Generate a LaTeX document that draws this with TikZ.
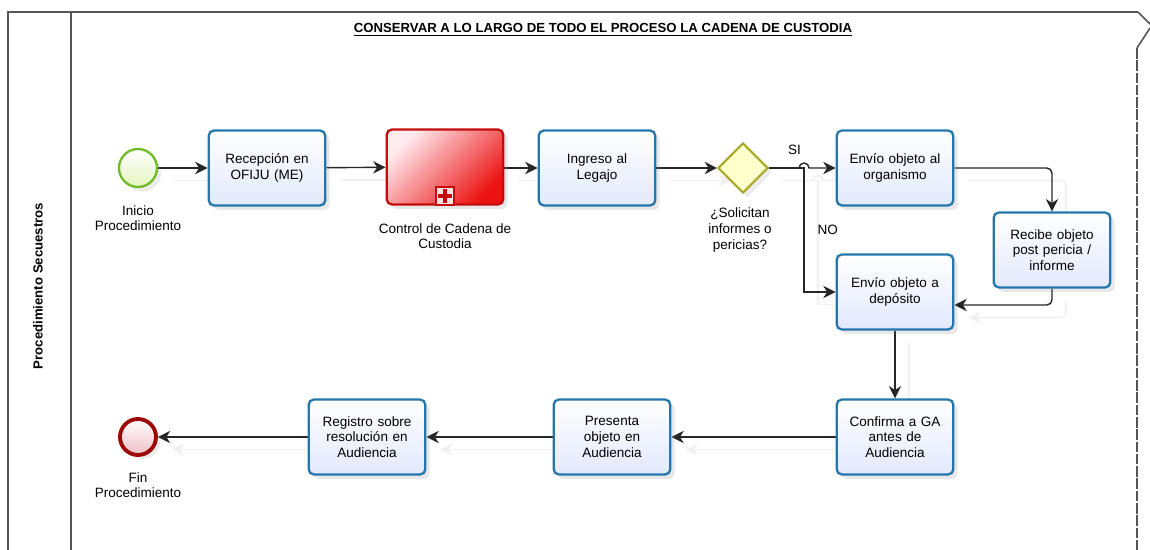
\documentclass[tikz,border=0pt]{standalone}
\usepackage{fontspec}
\setmainfont{Liberation Sans}
\usetikzlibrary{arrows.meta,shapes.geometric,shadows,positioning,backgrounds}

\definecolor{taskblue}{RGB}{36,118,172}
\definecolor{taskfill}{RGB}{226,233,252}
\definecolor{ctrlred}{RGB}{196,12,12}
\definecolor{ctrlfill}{RGB}{236,18,18}
\definecolor{ctrltop}{RGB}{255,236,240}
\definecolor{gwline}{RGB}{168,168,40}
\definecolor{gwfill}{RGB}{255,255,205}
\definecolor{startline}{RGB}{112,186,40}
\definecolor{startfill}{RGB}{228,246,190}
\definecolor{endline}{RGB}{156,8,8}
\definecolor{endfill}{RGB}{240,190,196}
\definecolor{poolline}{RGB}{85,85,85}

\newcommand\boxfont{\fontsize{7.7}{8.9}\selectfont}
\newcommand\headfont{\fontsize{7.5}{9}\selectfont\bfseries}

\tikzset{
  task/.style={draw=taskblue, line width=1.3pt, rounded corners=3pt,
    minimum width=2.28cm, minimum height=1.5cm, text width=2.1cm,
    align=center, top color=white, bottom color=taskfill, font=\boxfont,
    drop shadow={shadow xshift=2.5pt, shadow yshift=-2.5pt, opacity=.18}},
  ctrltask/.style={task, draw=ctrlred,
    top color=ctrltop, bottom color=ctrlfill, shading angle=45},
  marker/.style={draw=ctrlred, line width=1pt, fill=red!12,
    minimum size=0.36cm, inner sep=0pt, anchor=south},
  gateway/.style={diamond, aspect=1, draw=gwline, line width=1.2pt,
    fill=gwfill, minimum size=1cm, inner sep=0pt,
    drop shadow={shadow xshift=2.5pt, shadow yshift=-2.5pt, opacity=.15}},
  startev/.style={circle, draw=startline, line width=1.3pt, minimum size=0.76cm,
    inner sep=0pt, top color=white, bottom color=startfill,
    drop shadow={shadow xshift=2.5pt, shadow yshift=-2.5pt, opacity=.15}},
  endev/.style={circle, draw=endline, line width=2.2pt, minimum size=0.72cm,
    inner sep=0pt, top color=white, bottom color=endfill,
    drop shadow={shadow xshift=2.5pt, shadow yshift=-2.5pt, opacity=.15}},
  lbl/.style={font=\boxfont, align=center},
  flow/.style={draw=black!85, line width=0.8pt,
    -{Stealth[length=7pt, width=7pt, inset=2.2pt]},
    preaction={draw=black!6, line width=1pt,
      transform canvas={shift={(0.28cm,-0.25cm)}}}},
  pool/.style={draw=poolline, line width=0.9pt}
}

\begin{document}
\begin{tikzpicture}[x=0.02cm, y=-0.02cm]
\useasboundingbox (0,0) rectangle (1150,550);

% pool and lane
\draw[pool] (1138,12) -- (8,12) -- (8,550);
\draw[pool] (71,12) -- (71,550);
\draw[pool] (1138,12) -- (1150,24);
\draw[pool] (1150,28) -- (1137,48);
\draw[pool, dash pattern=on 6pt off 1pt] (1137,48) -- (1137,550);
\node[rotate=90, font=\headfont] (lane) at (38,286) {Procedimiento Secuestros};
\node[font=\headfont] (title) at (603,30)
  {\underline{CONSERVAR A LO LARGO DE TODO EL PROCESO LA CADENA DE CUSTODIA}};

% first row
\node[startev] (start) at (138,168) {};
\node[lbl] (startlbl) at (138,218) {Inicio\\Procedimiento};
\node[task] (recep) at (267,168) {Recepción en\\OFIJU (ME)};
\node[ctrltask] (control) at (445,167) {};
\node[marker] (ctrlmark) at (control.south) {};
\draw[ctrlred, line width=2pt] ([yshift=-0.06cm]ctrlmark.north) -- ([yshift=0.06cm]ctrlmark.south)
  ([xshift=0.06cm]ctrlmark.west) -- ([xshift=-0.06cm]ctrlmark.east);
\node[lbl] (ctrllbl) at (445,236) {Control de Cadena de\\Custodia};
\node[task] (ingreso) at (597,168) {Ingreso al\\Legajo};
\node[gateway] (gw) at (743,168) {};
\node[lbl] (gwlbl) at (740,230) {¿Solicitan\\informes o\\pericias?};

% right column
\node[task] (org) at (895,168) {Envío objeto al\\organismo};
\node[task] (recibe) at (1052,250) {Recibe objeto\\post pericia /\\informe};
\node[task] (dep) at (895,292) {Envío objeto a\\depósito};
\node[task] (confirma) at (895,437) {Confirma a GA\\antes de\\Audiencia};

% bottom row
\node[task] (presenta) at (612,437) {Presenta\\objeto en\\Audiencia};
\node[task] (registro) at (367,437) {Registro sobre\\resolución en\\Audiencia};
\node[endev] (fin) at (138,437) {};
\node[lbl] (finlbl) at (138,485) {Fin\\Procedimiento};

% flows
\begin{scope}[on background layer]
\draw[flow] (start) -- (recep);
\draw[flow] (recep) -- (control);
\draw[flow] (control.east |- recep.east) -- (ingreso);
\draw[flow] (ingreso) -- (gw);
\draw[flow] (gw.east) -- node[pos=0.85, above=4pt, lbl] (si) {SI} ++(30,0)
  arc[start angle=180, end angle=0, radius=0.1cm] -- (org.west);
\draw[flow] (gw.east) -- ++(35,0) |- (dep.west) node[pos=0.25, right=4pt, lbl] (no) {NO};
\draw[flow, rounded corners=3pt] (org.east) -| (recibe.north);
\draw[flow, rounded corners=3pt] (recibe.south) |- ([yshift=-7.4pt]dep.east);
\draw[flow] (dep) -- (confirma);
\draw[flow] (confirma) -- (presenta);
\draw[flow] (presenta) -- (registro);
\draw[flow] (registro) -- (fin);
\end{scope}
\end{tikzpicture}
\end{document}
